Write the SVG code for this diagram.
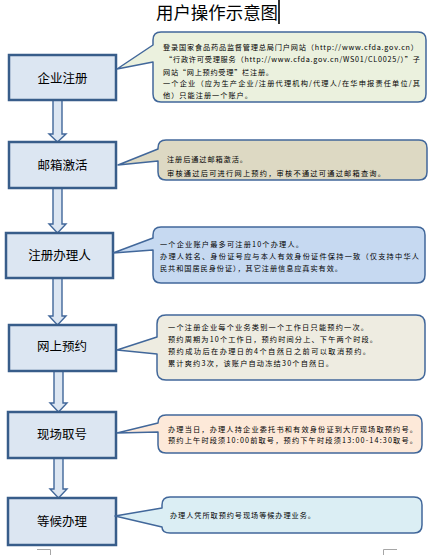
<svg xmlns="http://www.w3.org/2000/svg" width="429" height="555" viewBox="0 0 429 555">
<style>
.bg{fill:#ffffff}
.box{fill:#DCE6F2;stroke:#385D8A;stroke-width:2.5}
.lbl{font-family:"Noto Sans CJK SC","Noto Sans",sans-serif;font-size:12.5px;fill:#000;text-anchor:middle}
.co{stroke:#41679A;stroke-width:1.5;stroke-linejoin:round}
.ct{font-family:"Noto Sans CJK SC","Noto Sans",sans-serif;font-size:7.2px;fill:#000}
.arr{fill:#DCE6F2;stroke:#41679A;stroke-width:1.4;stroke-linejoin:miter}
.title{font-family:"Noto Sans CJK SC","Noto Sans",sans-serif;font-size:17px;fill:#000}
.mark{fill:none;stroke:#A6A6A6;stroke-width:1}
</style>
<rect class="bg" x="0" y="0" width="429" height="555"/>
<g id="title">
<text class="title" x="156" y="18.5" textLength="122" lengthAdjust="spacingAndGlyphs">用户操作示意图</text>
<line x1="279" y1="0" x2="279" y2="24" stroke="#000" stroke-width="1.6"/>
</g>
<g id="connectors">
<polygon class="arr" points="53,100 62,100 62,134 66,134 57.5,142 49,134 53,134"/>
<polygon class="arr" points="53,188 62,188 62,224 66,224 57.5,233 49,224 53,224"/>
<polygon class="arr" points="53,278 62,278 62,316 66,316 57.5,325 49,316 53,316"/>
<polygon class="arr" points="54,371 63,371 63,403 67,403 58.5,412 50,403 54,403"/>
<polygon class="arr" points="54,458 63,458 63,489 67,489 58.5,498 50,489 54,489"/>
</g>
<g id="n1">
<rect class="box" x="9" y="55" width="107" height="45"/>
<text class="lbl" x="62.5" y="82.5">企业注册</text>
</g>
<g id="n2">
<rect class="box" x="9" y="142" width="107" height="46"/>
<text class="lbl" x="62.5" y="170">邮箱激活</text>
</g>
<g id="n3">
<rect class="box" x="6" y="233" width="107" height="45"/>
<text class="lbl" x="59.5" y="260">注册办理人</text>
</g>
<g id="n4">
<rect class="box" x="9" y="325" width="107" height="46"/>
<text class="lbl" x="62" y="351">网上预约</text>
</g>
<g id="n5">
<rect class="box" x="8" y="412" width="108" height="46"/>
<text class="lbl" x="62" y="439">现场取号</text>
</g>
<g id="n6">
<rect class="box" x="8" y="498" width="108" height="47"/>
<text class="lbl" x="62" y="525.5">等候办理</text>
</g>
<g id="c1">
<path class="co" fill="#EBF1DE" d="M161,32 H418 Q426,32 426,40 V94 Q426,102 418,102 H161 Q153,102 153,94 V62 L117,69 L153,45 V40 Q153,32 161,32 Z"/>
<text class="ct" x="163" y="49.5" textLength="255" lengthAdjust="spacing">登录国家食品药品监督管理总局门户网站（http://www.cfda.gov.cn）</text>
<text class="ct" x="165" y="62" textLength="255" lengthAdjust="spacing">“行政许可受理服务（http://www.cfda.gov.cn/WS01/CL0025/）”子</text>
<text class="ct" x="163" y="74.5" textLength="110" lengthAdjust="spacing">网站“网上预约受理”栏注册。</text>
<text class="ct" x="163" y="86" textLength="257" lengthAdjust="spacing">一个企业（应为生产企业/注册代理机构/代理人/在华申报责任单位/其</text>
<text class="ct" x="163" y="97.5" textLength="89" lengthAdjust="spacing">他）只能注册一个账户。</text>
</g>
<g id="c2">
<path class="co" fill="#DDD9C3" d="M166,140 H419 Q427,140 427,148 V172 Q427,180 419,180 H166 Q158,180 158,172 V161 L118,165 L158,149 V148 Q158,140 166,140 Z"/>
<text class="ct" x="167" y="162" textLength="80" lengthAdjust="spacing">注册后通过邮箱激活。</text>
<text class="ct" x="167" y="176" textLength="218" lengthAdjust="spacing">审核通过后可进行网上预约，审核不通过可通过邮箱查询。</text>
</g>
<g id="c3">
<path class="co" fill="#C6D9F1" d="M161,227 H417 Q425,227 425,235 V275 Q425,283 417,283 H161 Q153,283 153,275 V250 L113,253 L153,238 V235 Q153,227 161,227 Z"/>
<text class="ct" x="160" y="246.5" textLength="143" lengthAdjust="spacing">一个企业账户最多可注册10个办理人。</text>
<text class="ct" x="160" y="258.5" textLength="259" lengthAdjust="spacing">办理人姓名、身份证号应与本人有效身份证件保持一致（仅支持中华人</text>
<text class="ct" x="160" y="271" textLength="182" lengthAdjust="spacing">民共和国居民身份证），其它注册信息应真实有效。</text>
</g>
<g id="c4">
<path class="co" fill="#EEECE1" d="M166,315 H416 Q425,315 425,324 V371 Q425,380 416,380 H166 Q157,380 157,371 V354 L117,350 L157,337 V324 Q157,315 166,315 Z"/>
<text class="ct" x="168" y="329.5" textLength="200" lengthAdjust="spacing">一个注册企业每个业务类别一个工作日只能预约一次。</text>
<text class="ct" x="168" y="341.5" textLength="209" lengthAdjust="spacing">预约周期为10个工作日，预约时间分上、下午两个时段。</text>
<text class="ct" x="168" y="353.5" textLength="202" lengthAdjust="spacing">预约成功后在办理日的4个自然日之前可以取消预约。</text>
<text class="ct" x="168" y="365.5" textLength="165" lengthAdjust="spacing">累计爽约3次，该账户自动冻结30个自然日。</text>
</g>
<g id="c5">
<path class="co" fill="#FDE9D9" d="M166,415 H414 Q422,415 422,423 V445 Q422,453 414,453 H166 Q158,453 158,445 V432 L117,433 L158,423 Q158,415 166,415 Z"/>
<text class="ct" x="168" y="431.5" textLength="249" lengthAdjust="spacing">办理当日，办理人持企业委托书和有效身份证到大厅现场取预约号。</text>
<text class="ct" x="168" y="442.5" textLength="249" lengthAdjust="spacing">预约上午时段须10:00前取号，预约下午时段须13:00-14:30取号。</text>
</g>
<g id="c6">
<path class="co" fill="#DBEEF4" d="M170,497 H414 Q422,497 422,505 V525 Q422,533 414,533 H170 Q162,533 162,527 L115,516 L162,508 V505 Q162,497 170,497 Z"/>
<text class="ct" x="170" y="517.5" textLength="145" lengthAdjust="spacing">办理人凭所取预约号现场等候办理业务。</text>
</g>
<g id="marks">
<polyline class="mark" points="37,549.5 50.5,549.5 50.5,555"/>
<polyline class="mark" points="383.5,555 383.5,549.5 397,549.5"/>
</g>
</svg>
